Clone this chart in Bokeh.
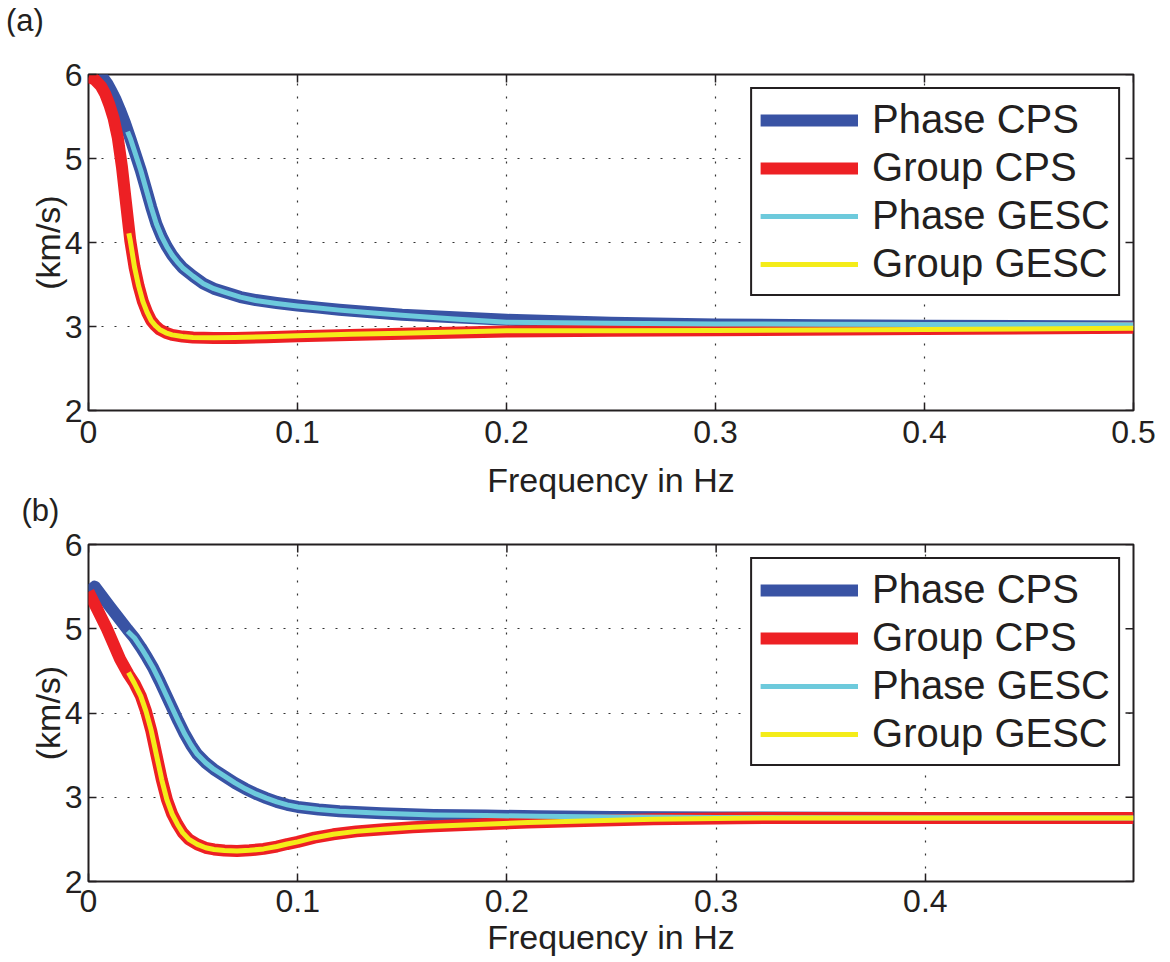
import math
from bokeh.plotting import figure
from bokeh.layouts import column
from bokeh.models import (Range1d, FixedTicker, Legend, LegendItem, Title, Div,
                          CustomJSTickFormatter)
from bokeh.embed import file_html
from bokeh.resources import INLINE

# ---------------- data ----------------
# Panel (a)
fa_phase_cps = [0.005, 0.007, 0.009, 0.011, 0.013, 0.015, 0.0175, 0.020, 0.0225, 0.025,
                0.0275, 0.030, 0.0325, 0.035, 0.0375, 0.040, 0.0425, 0.045, 0.050, 0.055,
                0.060, 0.065, 0.0727, 0.080, 0.090, 0.100, 0.110, 0.120, 0.135, 0.150,
                0.175, 0.200, 0.250, 0.300, 0.350, 0.400, 0.500]
va_phase_cps = [6.00, 5.96, 5.89, 5.80, 5.70, 5.58, 5.42, 5.24, 5.05, 4.86,
                4.64, 4.42, 4.22, 4.07, 3.95, 3.85, 3.77, 3.70, 3.60, 3.51,
                3.45, 3.41, 3.35, 3.315, 3.28, 3.25, 3.225, 3.20, 3.17, 3.14,
                3.11, 3.08, 3.045, 3.025, 3.015, 3.01, 3.00]
fa_group_cps = [0.000, 0.003, 0.006, 0.008, 0.010, 0.012, 0.014, 0.016, 0.018, 0.020,
                0.022, 0.024, 0.026, 0.028, 0.030, 0.032, 0.034, 0.037, 0.040, 0.045,
                0.050, 0.060, 0.070, 0.085, 0.100, 0.125, 0.150, 0.200, 0.250, 0.300,
                0.400, 0.500]
va_group_cps = [5.97, 5.94, 5.86, 5.77, 5.64, 5.48, 5.25, 4.90, 4.46, 4.02,
                3.71, 3.48, 3.30, 3.17, 3.07, 3.01, 2.965, 2.925, 2.90, 2.88,
                2.868, 2.862, 2.863, 2.872, 2.885, 2.90, 2.915, 2.94, 2.95, 2.956,
                2.97, 2.985]
fa_phase_gesc = [0.0187, 0.020, 0.0225, 0.025, 0.0275, 0.030, 0.0325, 0.035, 0.0375, 0.040,
                 0.0425, 0.045, 0.050, 0.055, 0.060, 0.065, 0.0727, 0.080, 0.090, 0.100,
                 0.110, 0.120, 0.135, 0.150, 0.175, 0.200, 0.250, 0.300, 0.350, 0.400,
                 0.500]
va_phase_gesc = [5.32, 5.24, 5.05, 4.86, 4.64, 4.42, 4.22, 4.07, 3.95, 3.85,
                 3.77, 3.70, 3.60, 3.51, 3.45, 3.41, 3.35, 3.31, 3.275, 3.245,
                 3.22, 3.195, 3.165, 3.135, 3.09, 3.05, 3.038, 3.03, 3.027, 3.025,
                 3.02]
fa_group_gesc = [0.0193, 0.020, 0.022, 0.024, 0.026, 0.028, 0.030, 0.032, 0.034, 0.037,
                 0.040, 0.045, 0.050, 0.060, 0.070, 0.085, 0.100, 0.125, 0.150, 0.200,
                 0.250, 0.300, 0.400, 0.500]
va_group_gesc = [4.11, 4.02, 3.71, 3.48, 3.30, 3.17, 3.07, 3.01, 2.965, 2.925,
                 2.90, 2.88, 2.87, 2.866, 2.868, 2.878, 2.89, 2.908, 2.92, 2.948,
                 2.95, 2.952, 2.965, 2.98]

# Panel (b)
fb_phase_cps = [0.000, 0.003, 0.010, 0.0187, 0.022, 0.025, 0.028, 0.031, 0.034, 0.037,
                0.040, 0.043, 0.046, 0.049, 0.052, 0.056, 0.060, 0.065, 0.070, 0.075,
                0.080, 0.085, 0.090, 0.095, 0.100, 0.110, 0.120, 0.140, 0.165, 0.190,
                0.215, 0.250, 0.300, 0.400, 0.4995]
vb_phase_cps = [5.44, 5.50, 5.27, 4.99, 4.89, 4.78, 4.66, 4.53, 4.38, 4.22,
                4.06, 3.90, 3.75, 3.62, 3.51, 3.41, 3.33, 3.25, 3.17, 3.10,
                3.04, 2.99, 2.945, 2.91, 2.885, 2.855, 2.835, 2.81, 2.79, 2.782,
                2.775, 2.767, 2.76, 2.755, 2.755]
fb_group_cps = [0.000, 0.0088, 0.0151, 0.0191, 0.022, 0.025, 0.0275, 0.030, 0.0325, 0.035,
                0.0375, 0.040, 0.0425, 0.045, 0.048, 0.052, 0.056, 0.060, 0.065, 0.071,
                0.077, 0.0837, 0.090, 0.095, 0.100, 0.108, 0.117, 0.128, 0.141, 0.155,
                0.165, 0.189, 0.210, 0.237, 0.270, 0.310, 0.400, 0.4995]
vb_group_cps = [5.44, 5.00, 4.64, 4.46, 4.35, 4.20, 4.02, 3.79, 3.50, 3.21,
                2.97, 2.80, 2.68, 2.58, 2.50, 2.44, 2.40, 2.38, 2.367, 2.363,
                2.37, 2.387, 2.415, 2.445, 2.47, 2.52, 2.56, 2.595, 2.62, 2.643,
                2.655, 2.68, 2.70, 2.718, 2.738, 2.752, 2.755, 2.755]
fb_phase_gesc = [0.0187, 0.022, 0.025, 0.028, 0.031, 0.034, 0.037, 0.040, 0.043, 0.046,
                 0.049, 0.052, 0.056, 0.060, 0.065, 0.070, 0.075, 0.080, 0.085, 0.090,
                 0.095, 0.100, 0.110, 0.120, 0.140, 0.165, 0.190, 0.215, 0.250, 0.300,
                 0.400, 0.4995]
vb_phase_gesc = [4.97, 4.89, 4.78, 4.66, 4.53, 4.38, 4.22, 4.06, 3.90, 3.75,
                 3.62, 3.51, 3.41, 3.33, 3.25, 3.17, 3.10, 3.04, 2.99, 2.945,
                 2.91, 2.885, 2.855, 2.835, 2.81, 2.79, 2.782, 2.775, 2.767, 2.76,
                 2.755, 2.755]
fb_group_gesc = [0.0191, 0.022, 0.025, 0.0275, 0.030, 0.0325, 0.035, 0.0375, 0.040, 0.0425,
                 0.045, 0.048, 0.052, 0.056, 0.060, 0.065, 0.071, 0.077, 0.0837, 0.090,
                 0.095, 0.100, 0.108, 0.117, 0.128, 0.141, 0.155, 0.165, 0.189, 0.210,
                 0.237, 0.270, 0.310, 0.400, 0.4995]
vb_group_gesc = [4.48, 4.35, 4.20, 4.02, 3.79, 3.50, 3.21, 2.97, 2.80, 2.68,
                 2.58, 2.50, 2.44, 2.40, 2.38, 2.367, 2.363, 2.37, 2.387, 2.415,
                 2.445, 2.47, 2.52, 2.56, 2.595, 2.62, 2.643, 2.655, 2.68, 2.70,
                 2.718, 2.738, 2.752, 2.755, 2.755]

series_names = ["Phase CPS", "Group CPS", "Phase GESC", "Group GESC"]
xticks_a = [0, 0.1, 0.2, 0.3, 0.4, 0.5]
xticks_b = [0, 0.1, 0.2, 0.3, 0.4]
yticks = [2, 3, 4, 5, 6]
x_label = "Frequency in Hz"
y_label = "(km/s)"
panel_tags = ["(a)", "(b)"]

# ---------------- styles ----------------
FONT = "Liberation Sans"
TXT = "#231f20"
COLORS = ["#3953a4", "#ed2024", "#6dcadc", "#f4ec19"]
WIDTHS = [12, 12, 5, 5]


def make_panel(data, xmax, xticks, frame_w, frame_h, borders,
               tick_standoff, label_standoff):
    bl, br, bt, bb = borders
    p = figure(frame_width=frame_w, frame_height=frame_h,
               min_border_left=bl, min_border_right=br,
               min_border_top=bt, min_border_bottom=bb,
               x_range=Range1d(0, xmax), y_range=Range1d(2, 6),
               output_backend="svg", toolbar_location=None)
    p.background_fill_color = "white"
    p.border_fill_color = "white"
    p.outline_line_color = TXT
    p.outline_line_width = 2

    fmt = CustomJSTickFormatter(code="return (Math.round(tick*10)/10).toString();")
    xt = FixedTicker(ticks=xticks)
    yt = FixedTicker(ticks=yticks)
    p.xaxis.ticker = xt
    p.yaxis.ticker = yt
    p.xaxis.formatter = fmt
    for ax in (p.xaxis[0], p.yaxis[0]):
        ax.axis_line_color = None
        ax.major_tick_in = 8
        ax.major_tick_out = 0
        ax.major_tick_line_color = TXT
        ax.major_tick_line_width = 1.5
        ax.minor_tick_line_color = None
        ax.major_label_text_font = FONT
        ax.major_label_text_font_size = "32px"
        ax.major_label_text_color = TXT
        ax.axis_label_text_font = FONT
        ax.axis_label_text_font_size = "34px"
        ax.axis_label_text_font_style = "normal"
        ax.axis_label_text_color = TXT
    p.xaxis.axis_label = x_label
    p.yaxis.axis_label = y_label
    p.xaxis.major_label_standoff = tick_standoff
    p.xaxis.axis_label_standoff = label_standoff
    p.yaxis.major_label_standoff = 6
    p.yaxis.axis_label_standoff = -5

    p.xgrid.ticker = xt
    p.ygrid.ticker = yt
    p.grid.grid_line_color = "#333333"
    p.grid.grid_line_dash = "2 11"
    p.grid.grid_line_width = 1.2

    # inward box ticks on the top and right edges, at the tick values
    p.ray(x=xticks, y=[6] * len(xticks), length=8, length_units="screen",
          angle=-math.pi / 2, line_color=TXT, line_width=1.5)
    p.ray(x=[xmax] * len(yticks), y=yticks, length=8, length_units="screen",
          angle=math.pi, line_color=TXT, line_width=1.5)

    items = []
    for (xs, ys), name, col, w in zip(data, series_names, COLORS, WIDTHS):
        r = p.line(xs, ys, line_color=col, line_width=w, line_join="round", line_cap="butt")
        items.append(LegendItem(label=name, renderers=[r]))

    leg = Legend(items=items, location="top_right", margin=13, padding=8, spacing=3,
                 glyph_width=98, glyph_height=20, label_standoff=14,
                 label_text_font=FONT, label_text_font_size="40px", label_text_color=TXT,
                 border_line_color=TXT, border_line_width=2.5, border_line_alpha=1,
                 background_fill_color="white", background_fill_alpha=1)
    p.add_layout(leg)
    return p


div_a = Div(text=("<div style=\"font-family:'Liberation Sans';font-size:31px;"
                  "line-height:31px;color:#231f20;padding-left:6px;padding-top:5px;"
                  "white-space:nowrap\">" + panel_tags[0] + "</div>"),
            width=200, height=36, margin=(0, 0, 0, 0))

pa = make_panel([(fa_phase_cps, va_phase_cps), (fa_group_cps, va_group_cps),
                 (fa_phase_gesc, va_phase_gesc), (fa_group_gesc, va_group_gesc)],
                0.5, xticks_a, 1045, 336, (88, 30, 38, 118), 10, 15)
pa.add_layout(Title(text=panel_tags[1], align="left", offset=-67, standoff=-18,
                    vertical_align="top", text_font=FONT,
                    text_font_size="31px", text_font_style="normal", text_color=TXT),
              "below")

pb = make_panel([(fb_phase_cps, vb_phase_cps), (fb_group_cps, vb_group_cps),
                 (fb_phase_gesc, vb_phase_gesc), (fb_group_gesc, vb_group_gesc)],
                0.4995, xticks_b, 1045, 337, (85, 33, 16, 81), 8, 3)

layout = column(div_a, pa, pb, spacing=0)
open("out.html", "w").write(file_html(layout, INLINE))
